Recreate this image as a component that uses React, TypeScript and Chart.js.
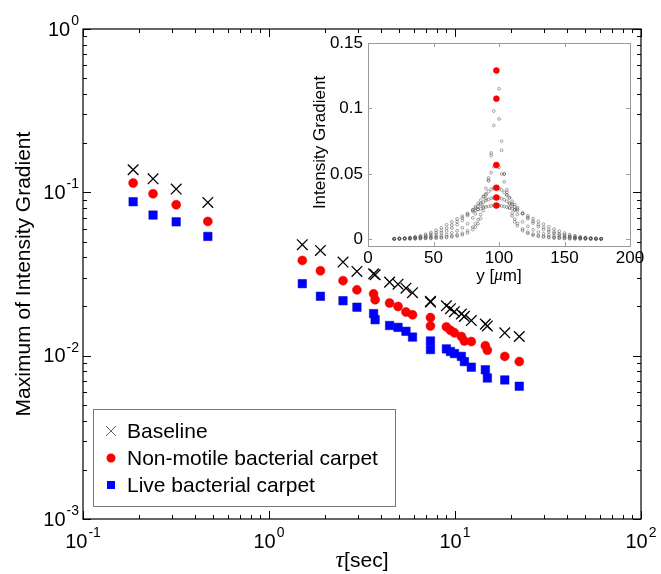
import React, { useEffect, useRef } from "react";
import { Chart, registerables } from "chart.js";
Chart.register(...registerables);

// ---------- main chart data ----------
const tauEarly = [0.186, 0.238, 0.317, 0.469];
const tauLate = [1.51, 1.89, 2.5, 2.97, 3.65, 3.72, 4.45, 4.94, 5.45, 5.91, 7.38, 7.38, 8.99, 9.45, 9.93, 10.82, 11.23, 12.24, 14.56, 14.93, 18.52, 22.16];

const baselineEarly = [0.1375, 0.121, 0.1047, 0.0867];
const baselineLate = [0.0478, 0.0441, 0.0374, 0.0328, 0.0317, 0.0313, 0.0282, 0.0274, 0.0259, 0.0243, 0.0215, 0.0213, 0.0202, 0.0194, 0.0186, 0.018, 0.0174, 0.0164, 0.0156, 0.0152, 0.0138, 0.0131];

const nonMotileEarly = [0.114, 0.098, 0.084, 0.0664];
const nonMotileLate = [0.0383, 0.0331, 0.0288, 0.0253, 0.0239, 0.022, 0.021, 0.02, 0.0185, 0.0178, 0.0171, 0.0152, 0.015, 0.0143, 0.0138, 0.0131, 0.0123, 0.0122, 0.0115, 0.0108, 0.0099, 0.0092];

const liveEarly = [0.0876, 0.0726, 0.066, 0.0537];
const liveLate = [0.0276, 0.0231, 0.0217, 0.0198, 0.0181, 0.0166, 0.0153, 0.0149, 0.0141, 0.013, 0.0123, 0.0109, 0.011, 0.0106, 0.0103, 0.0099, 0.0092, 0.0085, 0.0082, 0.0073, 0.0071, 0.0065];

const seriesNames = ["Baseline", "Non-motile bacterial carpet", "Live bacterial carpet"];
const xTickExps = [-1, 0, 1, 2];
const yTickExps = [-3, -2, -1, 0];
const xTitleSymbol = "\u03C4";
const xTitleUnit = "[sec]";
const yTitle = "Maximum of Intensity Gradient";

// ---------- inset data ----------
const insetX = [20, 24, 28, 32, 36, 40, 44, 48, 52, 56, 60, 64, 68, 72, 76, 80, 82, 84, 86, 88, 90, 92, 94, 96, 98, 100, 102, 104, 106, 108, 110, 112, 114, 118, 122, 126, 130, 134, 138, 142, 146, 150, 154, 158, 162, 166, 170, 174, 178];
const profile1 = [0.0003, 0.0003, 0.0004, 0.0004, 0.0005, 0.0006, 0.0007, 0.0008, 0.001, 0.0012, 0.0015, 0.002, 0.0026, 0.0035, 0.005, 0.0075, 0.0095, 0.012, 0.016, 0.022, 0.031, 0.045, 0.066, 0.098, 0.129, 0.115, 0.075, 0.05, 0.034, 0.024, 0.018, 0.0135, 0.0105, 0.0067, 0.0046, 0.0033, 0.0025, 0.0019, 0.0014, 0.0011, 0.0009, 0.0007, 0.0006, 0.0005, 0.0004, 0.0004, 0.0003, 0.0003, 0.0003];
const profile2 = [0.0004, 0.0005, 0.0005, 0.0006, 0.0007, 0.0008, 0.001, 0.0012, 0.0014, 0.0017, 0.0021, 0.0027, 0.0035, 0.0047, 0.0066, 0.0095, 0.012, 0.015, 0.019, 0.025, 0.034, 0.047, 0.064, 0.087, 0.1075, 0.092, 0.068, 0.05, 0.036, 0.027, 0.02, 0.0155, 0.0122, 0.008, 0.0056, 0.004, 0.003, 0.0023, 0.0018, 0.0014, 0.0012, 0.001, 0.0008, 0.0007, 0.0006, 0.0005, 0.0005, 0.0004, 0.0004];
const profile3 = [0.0005, 0.0006, 0.0007, 0.0008, 0.001, 0.0012, 0.0015, 0.0019, 0.0024, 0.003, 0.0039, 0.005, 0.0066, 0.0088, 0.012, 0.0165, 0.0195, 0.023, 0.0275, 0.033, 0.039, 0.045, 0.051, 0.0555, 0.057, 0.055, 0.05, 0.044, 0.038, 0.032, 0.027, 0.0225, 0.019, 0.0135, 0.01, 0.0074, 0.0056, 0.0043, 0.0034, 0.0027, 0.0022, 0.0018, 0.0014, 0.0012, 0.001, 0.0008, 0.0007, 0.0006, 0.0005];
const profile4 = [0.0005, 0.0006, 0.0008, 0.001, 0.0013, 0.0017, 0.0022, 0.0029, 0.0038, 0.005, 0.0066, 0.0087, 0.0113, 0.0145, 0.0182, 0.0226, 0.025, 0.0275, 0.03, 0.0325, 0.0348, 0.0367, 0.0382, 0.0392, 0.0395, 0.039, 0.0378, 0.036, 0.034, 0.0317, 0.0292, 0.0267, 0.0243, 0.0197, 0.0158, 0.0125, 0.0098, 0.0076, 0.0059, 0.0045, 0.0035, 0.0027, 0.0021, 0.0016, 0.0013, 0.001, 0.0008, 0.0006, 0.0005];
const profile5 = [0.0006, 0.0008, 0.001, 0.0013, 0.0017, 0.0023, 0.003, 0.004, 0.0052, 0.0068, 0.0087, 0.011, 0.0136, 0.0164, 0.0194, 0.0225, 0.024, 0.0255, 0.027, 0.0284, 0.0296, 0.0306, 0.0313, 0.0318, 0.032, 0.0318, 0.0312, 0.0303, 0.0292, 0.0279, 0.0264, 0.0248, 0.0232, 0.0199, 0.0168, 0.014, 0.0114, 0.0092, 0.0073, 0.0057, 0.0044, 0.0034, 0.0026, 0.002, 0.0015, 0.0012, 0.0009, 0.0007, 0.0006];
const profile6 = [0.0006, 0.0008, 0.001, 0.0014, 0.002, 0.0028, 0.0039, 0.0053, 0.007, 0.009, 0.0112, 0.0135, 0.0157, 0.0178, 0.0197, 0.0214, 0.0222, 0.0229, 0.0236, 0.0242, 0.0248, 0.0253, 0.0256, 0.0259, 0.026, 0.0259, 0.0256, 0.0252, 0.0247, 0.0241, 0.0234, 0.0226, 0.0218, 0.02, 0.018, 0.0159, 0.0138, 0.0117, 0.0097, 0.0079, 0.0063, 0.0049, 0.0037, 0.0028, 0.002, 0.0015, 0.0011, 0.0008, 0.0006];
const peakX = [98, 98, 98, 98, 98, 98];
const peakValues = [0.129, 0.1075, 0.0568, 0.0395, 0.032, 0.0259];
const insetXTicks = [0, 50, 100, 150, 200];
const insetYTicks = [0, 0.05, 0.1, 0.15];
const insetYTickLabels = ["0", "0.05", "0.1", "0.15"];
const insetXTitle = ["y [", "\u03BC", "m]"];
const insetYTitle = "Intensity Gradient";

const SANS = "'Liberation Sans', Arial, Helvetica, sans-serif";
const SERIF_I = "italic 24px 'Liberation Serif', 'DejaVu Serif', serif";
const W = 661;
const H = 574;

const pts = (xs: number[], ys: number[]) => xs.map((x, i) => ({ x, y: ys[i] }));

function drawPow(ctx: CanvasRenderingContext2D, exp: number, x: number, y: number, align: "right" | "center") {
  const base = "10";
  const sup = String(exp);
  ctx.font = `20px ${SANS}`;
  const wb = ctx.measureText(base).width;
  ctx.font = `14px ${SANS}`;
  const ws = ctx.measureText(sup).width;
  const total = wb + ws + 1;
  const x0 = align === "right" ? x - total : x - total / 2;
  ctx.textAlign = "left";
  ctx.textBaseline = "middle";
  ctx.font = `20px ${SANS}`;
  ctx.fillText(base, x0, y);
  ctx.font = `14px ${SANS}`;
  ctx.fillText(sup, x0 + wb + 1, y - 9);
}

const mainDecor = {
  id: "mainDecor",
  afterDatasetsDraw(chart: any) {
    const ctx: CanvasRenderingContext2D = chart.ctx;
    const { left, right, top, bottom } = chart.chartArea;
    const xs = chart.scales.x;
    const ys = chart.scales.y;
    ctx.save();
    ctx.strokeStyle = "#000";
    ctx.fillStyle = "#000";
    ctx.lineWidth = 1.2;
    ctx.strokeRect(left, top, right - left, bottom - top);
    ctx.lineWidth = 1;
    ctx.beginPath();
    for (let i = 0; i < xTickExps.length; i++) {
      const e = xTickExps[i];
      for (let k = 1; k <= 9; k++) {
        if (i === xTickExps.length - 1 && k > 1) break;
        const v = k * Math.pow(10, e);
        const px = Math.round(xs.getPixelForValue(v)) + 0.5;
        const len = k === 1 ? 8 : 4;
        ctx.moveTo(px, bottom);
        ctx.lineTo(px, bottom - len);
        ctx.moveTo(px, top);
        ctx.lineTo(px, top + len);
      }
    }
    for (let i = 0; i < yTickExps.length; i++) {
      const e = yTickExps[i];
      for (let k = 1; k <= 9; k++) {
        if (i === yTickExps.length - 1 && k > 1) break;
        const v = k * Math.pow(10, e);
        const py = Math.round(ys.getPixelForValue(v)) + 0.5;
        const len = k === 1 ? 8 : 4;
        ctx.moveTo(left, py);
        ctx.lineTo(left + len, py);
        ctx.moveTo(right, py);
        ctx.lineTo(right - len, py);
      }
    }
    ctx.stroke();

    xTickExps.forEach((e) => {
      const px = xs.getPixelForValue(Math.pow(10, e));
      drawPow(ctx, e, px, bottom + 23, "center");
    });
    yTickExps.forEach((e) => {
      const py = ys.getPixelForValue(Math.pow(10, e));
      drawPow(ctx, e, left - 4, py + 1, "right");
    });

    ctx.font = SERIF_I;
    const wt = ctx.measureText(xTitleSymbol).width;
    ctx.font = `21px ${SANS}`;
    const wu = ctx.measureText(xTitleUnit).width;
    const cx = (left + right) / 2;
    const x0 = cx - (wt + wu) / 2;
    ctx.textAlign = "left";
    ctx.textBaseline = "alphabetic";
    ctx.font = SERIF_I;
    ctx.fillText(xTitleSymbol, x0, 567);
    ctx.font = `21px ${SANS}`;
    ctx.fillText(xTitleUnit, x0 + wt, 567);

    ctx.save();
    ctx.translate(24, (top + bottom) / 2);
    ctx.rotate(-Math.PI / 2);
    ctx.textAlign = "center";
    ctx.textBaseline = "middle";
    ctx.font = `21px ${SANS}`;
    ctx.fillText(yTitle, 0, 0);
    ctx.restore();

    // legend
    const lx = 93.5, ly = 409.5, lw = 302, lh = 97;
    ctx.fillStyle = "#fff";
    ctx.fillRect(lx, ly, lw, lh);
    ctx.strokeStyle = "#777";
    ctx.lineWidth = 1;
    ctx.strokeRect(lx, ly, lw, lh);
    const rows = [431, 458, 485];
    const mx = 111;
    ctx.strokeStyle = "#666";
    ctx.lineWidth = 1;
    ctx.beginPath();
    ctx.moveTo(mx - 5, rows[0] - 5);
    ctx.lineTo(mx + 5, rows[0] + 5);
    ctx.moveTo(mx + 5, rows[0] - 5);
    ctx.lineTo(mx - 5, rows[0] + 5);
    ctx.stroke();
    ctx.fillStyle = "#ff0000";
    ctx.beginPath();
    ctx.arc(mx, rows[1], 4.5, 0, Math.PI * 2);
    ctx.fill();
    ctx.fillStyle = "#0000ff";
    ctx.fillRect(mx - 4, rows[2] - 4, 8, 8);
    ctx.fillStyle = "#000";
    ctx.font = `21px ${SANS}`;
    ctx.textAlign = "left";
    ctx.textBaseline = "middle";
    seriesNames.forEach((n, i) => ctx.fillText(n, 127, rows[i] + 1));
    ctx.restore();
  },
};

const insetDecor = {
  id: "insetDecor",
  beforeDatasetsDraw(chart: any) {
    const ctx: CanvasRenderingContext2D = chart.ctx;
    const { left, right, top, bottom } = chart.chartArea;
    const xs = chart.scales.x;
    const ys = chart.scales.y;
    ctx.save();
    ctx.fillStyle = "#fff";
    ctx.fillRect(left, top, right - left, bottom - top);
    ctx.strokeStyle = "#9a9a9a";
    ctx.lineWidth = 1;
    ctx.strokeRect(Math.round(left) + 0.5, Math.round(top) + 0.5, Math.round(right - left), Math.round(bottom - top));
    ctx.beginPath();
    insetXTicks.forEach((v) => {
      const px = Math.round(xs.getPixelForValue(v)) + 0.5;
      ctx.moveTo(px, bottom);
      ctx.lineTo(px, bottom - 4);
      ctx.moveTo(px, top);
      ctx.lineTo(px, top + 4);
    });
    insetYTicks.forEach((v) => {
      const py = Math.round(ys.getPixelForValue(v)) + 0.5;
      ctx.moveTo(left, py);
      ctx.lineTo(left + 4, py);
      ctx.moveTo(right, py);
      ctx.lineTo(right - 4, py);
    });
    ctx.stroke();

    ctx.fillStyle = "#000";
    ctx.font = `17px ${SANS}`;
    ctx.textAlign = "center";
    ctx.textBaseline = "middle";
    insetXTicks.forEach((v) => {
      ctx.fillText(String(v), xs.getPixelForValue(v), bottom + 12);
    });
    ctx.textAlign = "right";
    insetYTicks.forEach((v, i) => {
      ctx.fillText(insetYTickLabels[i], left - 5, ys.getPixelForValue(v));
    });
    ctx.font = `17px ${SANS}`;
    const a = ctx.measureText(insetXTitle[0]).width;
    const c = ctx.measureText(insetXTitle[2]).width;
    ctx.font = `italic 17px 'Liberation Serif', 'DejaVu Serif', serif`;
    const b = ctx.measureText(insetXTitle[1]).width;
    const cx = (left + right) / 2;
    const x0 = cx - (a + b + c) / 2;
    ctx.textAlign = "left";
    ctx.font = `17px ${SANS}`;
    ctx.fillText(insetXTitle[0], x0, bottom + 30);
    ctx.font = `italic 17px 'Liberation Serif', 'DejaVu Serif', serif`;
    ctx.fillText(insetXTitle[1], x0 + a, bottom + 30);
    ctx.font = `17px ${SANS}`;
    ctx.fillText(insetXTitle[2], x0 + a + b, bottom + 30);
    ctx.save();
    ctx.translate(left - 48, (top + bottom) / 2 - 2);
    ctx.rotate(-Math.PI / 2);
    ctx.textAlign = "center";
    ctx.textBaseline = "middle";
    ctx.font = `17px ${SANS}`;
    ctx.fillText(insetYTitle, 0, 0);
    ctx.restore();
    ctx.restore();
  },
};

export default function App() {
  const mainRef = useRef<HTMLCanvasElement>(null);
  const insetRef = useRef<HTMLCanvasElement>(null);

  useEffect(() => {
    const main = new Chart(mainRef.current as HTMLCanvasElement, {
      type: "scatter",
      data: {
        datasets: [
          {
            label: seriesNames[0],
            data: pts([...tauEarly, ...tauLate], [...baselineEarly, ...baselineLate]),
            pointStyle: "crossRot",
            pointRadius: 7.5,
            borderColor: "#000",
            backgroundColor: "#000",
            borderWidth: 1.3,
          },
          {
            label: seriesNames[1],
            data: pts([...tauEarly, ...tauLate], [...nonMotileEarly, ...nonMotileLate]),
            pointStyle: "circle",
            pointRadius: 4.5,
            borderColor: "#e00000",
            backgroundColor: "#ff0000",
            borderWidth: 0.5,
          },
          {
            label: seriesNames[2],
            data: pts([...tauEarly, ...tauLate], [...liveEarly, ...liveLate]),
            pointStyle: "rect",
            pointRadius: 6,
            borderColor: "#0000cc",
            backgroundColor: "#0000ff",
            borderWidth: 0.5,
          },
        ],
      },
      options: {
        animation: false,
        responsive: false,
        devicePixelRatio: 1,
        events: [],
        layout: { padding: { left: 83, right: W - 641, top: 29, bottom: H - 519 } },
        plugins: { legend: { display: false }, tooltip: { enabled: false } },
        scales: {
          x: { type: "logarithmic", min: 0.1, max: 100, display: false },
          y: { type: "logarithmic", min: 0.001, max: 1, display: false },
        },
      },
      plugins: [mainDecor],
    } as any);

    const grayStyle = {
      pointStyle: "circle",
      pointRadius: 1.4,
      borderColor: "rgba(80,80,80,0.85)",
      backgroundColor: "rgba(0,0,0,0)",
      borderWidth: 0.6,
    };
    const profiles = [profile1, profile2, profile3, profile4, profile5, profile6];
    const inset = new Chart(insetRef.current as HTMLCanvasElement, {
      type: "scatter",
      data: {
        datasets: [
          {
            label: "peak",
            data: pts(peakX, peakValues),
            pointStyle: "circle",
            pointRadius: 3,
            backgroundColor: "#ff0000",
            borderColor: "#dd0000",
            borderWidth: 0.5,
          },
          ...profiles.map((p, i) => ({ label: "profile" + (i + 1), data: pts(insetX, p), ...grayStyle })),
        ],
      },
      options: {
        animation: false,
        responsive: false,
        devicePixelRatio: 1,
        events: [],
        layout: { padding: { left: 368, right: W - 630, top: 43, bottom: H - 246 } },
        plugins: { legend: { display: false }, tooltip: { enabled: false } },
        scales: {
          x: { type: "linear", min: 0, max: 200, display: false },
          y: { type: "linear", min: -0.005, max: 0.15, display: false },
        },
      },
      plugins: [insetDecor],
    } as any);

    return () => {
      main.destroy();
      inset.destroy();
    };
  }, []);

  return (
    <div style={{ position: "absolute", left: 0, top: 0, width: W, height: H, background: "#fff" }}>
      <canvas ref={mainRef} width={W} height={H} style={{ position: "absolute", left: 0, top: 0 }} />
      <canvas ref={insetRef} width={W} height={H} style={{ position: "absolute", left: 0, top: 0 }} />
    </div>
  );
}
